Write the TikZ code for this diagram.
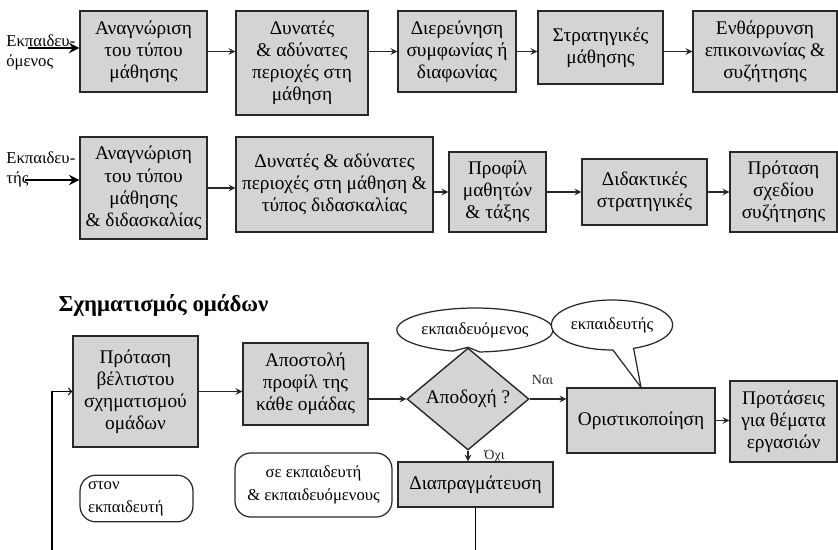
\documentclass[tikz,border=0pt]{standalone}
\usepackage{fontspec}
\setmainfont{Liberation Serif}
\usepackage{tikz}
\usetikzlibrary{shapes.geometric, shapes.callouts, arrows, positioning}
\definecolor{boxgray}{RGB}{212, 212, 212}
\definecolor{edgegray}{RGB}{40, 40, 40}
\tikzset{
  stepbox/.style={rectangle, draw=edgegray, line width=0.8pt, fill=boxgray,
    align=center, inner sep=2pt, font=\fontsize{11}{12.6}\selectfont},
  decision/.style={diamond, draw=edgegray, line width=0.8pt, fill=boxgray,
    inner sep=0pt, font=\fontsize{11}{12.6}\selectfont},
  notebox/.style={rectangle, rounded corners=9pt, draw=edgegray, line width=0.7pt,
    fill=white, font=\fontsize{9.5}{13}\selectfont},
  bubble/.style={ellipse callout, draw=edgegray, line width=0.7pt, fill=white,
    callout pointer arc=20, inner sep=1pt, font=\fontsize{9.5}{11}\selectfont},
  sidelabel/.style={anchor=west, align=left, inner sep=0pt,
    font=\fontsize{9.5}{11.4}\selectfont},
  small/.style={font=\fontsize{8}{9}\selectfont, inner sep=1pt},
  arrow/.style={->, >=stealth, color=edgegray, line width=0.7pt},
  bigarrow/.style={->, >=stealth, color=black, line width=1.6pt},
  backarrow/.style={->, >=to, color=black, line width=0.7pt}
}
\begin{document}
\begin{tikzpicture}[x=0.02cm, y=-0.02cm]
\useasboundingbox (0,0) rectangle (838,549);

% learner row
\node (lrn) [sidelabel] at (6,52) {Εκπαιδευ-\\όμενος};
\node (r1a) [stepbox, minimum width=2.54cm, minimum height=1.62cm] at (143.5,51.5)
  {Αναγνώριση\\του τύπου\\μάθησης};
\node (r1b) [stepbox, minimum width=2.64cm, minimum height=2.08cm] at (302,63)
  {Δυνατές\\\& αδύνατες\\περιοχές στη\\μάθηση};
\node (r1c) [stepbox, minimum width=2.36cm, minimum height=1.62cm] at (457,51.5)
  {Διερεύνηση\\συμφωνίας ή\\διαφωνίας};
\node (r1d) [stepbox, minimum width=2.50cm, minimum height=1.46cm] at (600.5,47.5)
  {Στρατηγικές\\μάθησης};
\node (r1e) [stepbox, minimum width=2.88cm, minimum height=1.62cm] at (765,51.5)
  {Ενθάρρυνση\\επικοινωνίας \&\\συζήτησης};
\coordinate (s1) at (28,48);
\draw[bigarrow] (s1) -- (s1 -| r1a.west);
\draw[arrow] (r1a.east) -- (r1a.east -| r1b.west);
\draw[arrow] (r1c.west -| r1b.east) -- (r1c.west);
\draw[arrow] (r1c.east) -- (r1c.east -| r1d.west);
\draw[arrow] (r1e.west -| r1d.east) -- (r1e.west);

% teacher row
\node (tch) [sidelabel] at (6,169) {Εκπαιδευ-\\τής};
\node (r2a) [stepbox, minimum width=2.54cm, minimum height=2.04cm] at (143.5,188)
  {Αναγνώριση\\του τύπου\\μάθησης\\\& διδασκαλίας};
\node (r2b) [stepbox, minimum width=3.94cm, minimum height=1.90cm] at (334.5,184.5)
  {Δυνατές \& αδύνατες\\περιοχές στη μάθηση \&\\τύπος διδασκαλίας};
\node (r2c) [stepbox, minimum width=1.94cm, minimum height=1.60cm] at (497.5,192)
  {Προφίλ\\μαθητών\\\& τάξης};
\node (r2d) [stepbox, minimum width=2.50cm, minimum height=1.32cm] at (644.5,192)
  {Διδακτικές\\στρατηγικές};
\node (r2e) [stepbox, minimum width=2.14cm, minimum height=1.60cm] at (783.5,192)
  {Πρόταση\\σχεδίου\\συζήτησης};
\coordinate (s2) at (25,180);
\draw[bigarrow] (s2) -- (s2 -| r2a.west);
\draw[arrow] (r2a.east) -- (r2a.east -| r2b.west);
\draw[arrow] (r2c.west -| r2b.east) -- (r2c.west);
\draw[arrow] (r2c.east) -- (r2c.east -| r2d.west);
\draw[arrow] (r2d.east) -- (r2d.east -| r2e.west);

% group forming
\node (title) [font=\fontsize{13}{15}\selectfont\bfseries] at (163.5,305)
  {Σχηματισμός ομάδων};
\node (g1) [stepbox, minimum width=2.50cm, minimum height=2.22cm] at (135.5,391.5)
  {Πρόταση\\βέλτιστου\\σχηματισμού\\ομάδων};
\node (g2) [stepbox, minimum width=2.50cm, minimum height=1.64cm] at (305.5,384)
  {Αποστολή\\προφίλ της\\κάθε ομάδας};
\node (dia) [decision, minimum width=2.44cm, minimum height=1.30cm] at (468,399)
  {Αποδοχή ?};
\node (fin) [stepbox, minimum width=2.96cm, minimum height=1.30cm] at (641,420.5)
  {Οριστικοποίηση};
\node (prop) [stepbox, minimum width=2.14cm, minimum height=1.62cm] at (783.5,421.5)
  {Προτάσεις\\για θέματα\\εργασιών};
\node (neg) [stepbox, minimum width=3.10cm, minimum height=0.90cm] at (475.5,484.5)
  {Διαπραγμάτευση};
\node (e1) [bubble, minimum width=2.80cm, minimum height=0.88cm,
  callout absolute pointer={(dia.north)}] at (475,330) {εκπαιδευόμενος};
\node (e2) [bubble, minimum width=2.20cm, minimum height=1.00cm,
  callout absolute pointer={(fin.north)}] at (612,325) {εκπαιδευτής};
\node (n1) [notebox, minimum width=2.26cm, minimum height=0.86cm,
  text width=1.94cm, align=left] at (136.5,498.5) {στον\\εκπαιδευτή};
\node (n2) [notebox, minimum width=3.14cm, minimum height=1.28cm,
  align=center] at (313.5,485) {σε εκπαιδευτή\\\& εκπαιδευόμενους};

\draw[arrow] (g1.east) -- (g1.east -| g2.west);
\draw[arrow] (g2.east |- dia.west) -- (dia.west);
\draw[arrow] (dia.east) -- (dia.east -| fin.west)
  node (yes) [small, pos=0.35, above=7pt] {Ναι};
\draw[arrow] (fin.east) -- (fin.east -| prop.west);
\draw[arrow] (dia.south) -- (dia.south |- neg.north)
  node (no) [small, midway, right=8pt] {Όχι};
\coordinate (lp) at (52,565);
\draw[backarrow] (neg.south) |- (lp) |- (g1.west);
\end{tikzpicture}
\end{document}
